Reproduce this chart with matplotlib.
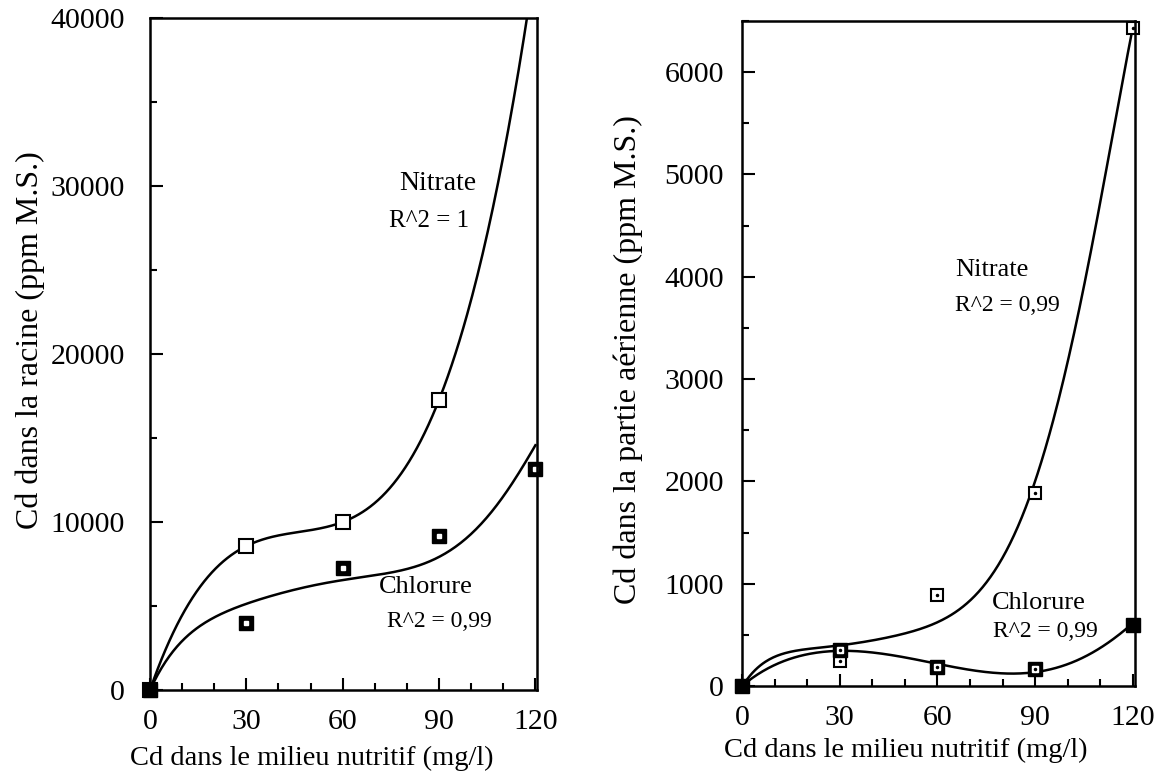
import numpy as np
import matplotlib
matplotlib.use("Agg")
import matplotlib.pyplot as plt
from matplotlib.ticker import MultipleLocator

plt.rcParams["font.family"] = ["Liberation Serif", "DejaVu Serif"]

# concentrations in the nutrient medium (mg/l)
dose = [0, 30, 60, 90, 120]

# roots (left panel)
root_nitrate = [0, 8570, 10000, 17270]          # 120 mg/l point is off the scale
root_chlorure = [0, 3960, 7270, 9190, 13170]

# shoots (right panel)
shoot_nitrate = [0, 245, 885, 1885, 6430]
shoot_chlorure = [0, 355, 185, 165, 600]

# trend curves, every 10 mg/l
curve_x = [0, 10, 20, 30, 40, 50, 60, 70, 80, 90, 100, 110, 120]
root_chlorure_curve = [0, 2900, 4300, 5200, 5700, 6150, 6530, 6850, 7250, 7920, 9200, 11600, 14550]
shoot_nitrate_curve = [0, 255, 380, 420, 445, 480, 600, 870, 1290, 2000, 3100, 4800, 6430]
shoot_chlorure_curve = [0, 206, 310, 337, 337, 281, 206, 157, 134, 134, 206, 379, 614]

fs = 21.5
fig = plt.figure(figsize=(11.61, 7.79), dpi=100)
ax1 = fig.add_axes([150 / 1161, 1 - 690 / 779, 387 / 1161, 672 / 779])
ax2 = fig.add_axes([742 / 1161, 1 - 686 / 779, 392.6 / 1161, 665 / 779])

xs = np.linspace(0, 120, 300)


def smooth(x, y, deg):
    return np.polyval(np.polyfit(x, y, deg), xs)


def style(ax, ymax, ymajor, ypad):
    ax.set_xlim(0, 120.5)
    ax.set_ylim(0, ymax)
    ax.xaxis.set_major_locator(MultipleLocator(30))
    ax.xaxis.set_minor_locator(MultipleLocator(10))
    ax.yaxis.set_major_locator(MultipleLocator(ymajor))
    ax.yaxis.set_minor_locator(MultipleLocator(ymajor / 2))
    ax.tick_params(which="both", direction="in", width=1.5, labelsize=fs,
                   top=False, right=False)
    ax.tick_params(axis="x", pad=14)
    ax.tick_params(axis="y", pad=ypad)
    ax.tick_params(which="major", length=9)
    ax.tick_params(which="minor", length=5)
    for s in ax.spines.values():
        s.set_linewidth(1.8)


# left panel
ax1.plot(xs, smooth(dose[:4], root_nitrate, 3), color="black", lw=1.8)
ax1.plot(xs, smooth(curve_x, root_chlorure_curve, 6), color="black", lw=1.8)
ax1.plot(dose[:4], root_nitrate, "s", ms=10, mfc="white", mec="black", mew=1.5, clip_on=False)
ax1.plot(dose, root_chlorure, "s", ms=10, color="black", clip_on=False)
ax1.plot(dose[1:], root_chlorure[1:], "s", ms=3.5, color="white", clip_on=False)
style(ax1, 40000, 10000, 18)
ax1.text(77.5, 30150, "Nitrate", fontsize=20, va="center")
ax1.text(74.4, 27940, "R^2 = 1", fontsize=18, va="center")
ax1.text(71.3, 6150, "Chlorure", fontsize=19, va="center")
ax1.text(73.8, 4060, "R^2 = 0,99", fontsize=17, va="center")

# right panel
ax2.plot(xs, smooth(curve_x, shoot_nitrate_curve, 6), color="black", lw=1.8)
ax2.plot(xs, smooth(curve_x, shoot_chlorure_curve, 6), color="black", lw=1.8)
ax2.plot(dose, shoot_nitrate, "s", ms=9, mfc="white", mec="black", mew=1.5, clip_on=False)
ax2.plot(dose, shoot_nitrate, ".", ms=3, color="black", clip_on=False)
ax2.plot(dose, shoot_chlorure, "s", ms=10, color="black", clip_on=False)
ax2.plot(dose[1:4], shoot_chlorure[1:4], "s", ms=5, color="white", clip_on=False)
ax2.plot(dose[1:4], shoot_chlorure[1:4], ".", ms=3, color="black", clip_on=False)
style(ax2, 6500, 1000, 13)
ax2.text(65.4, 4066, "Nitrate", fontsize=19, va="center")
ax2.text(65.4, 3724, "R^2 = 0,99", fontsize=17, va="center")
ax2.text(76.7, 811, "Chlorure", fontsize=19, va="center")
ax2.text(77.0, 528, "R^2 = 0,99", fontsize=17, va="center")

fig.text(312 / 1161, 1 - 758 / 779, "Cd dans le milieu nutritif (mg/l)", fontsize=20.5,
         ha="center", va="center")
fig.text(906 / 1161, 1 - 750 / 779, "Cd dans le milieu nutritif (mg/l)", fontsize=20.5,
         ha="center", va="center")
fig.text(30 / 1161, 1 - 340 / 779, "Cd dans la racine (ppm M.S.)", fontsize=23,
         rotation=90, ha="center", va="center")
fig.text(628 / 1161, 1 - 360 / 779, "Cd dans la partie aérienne (ppm M.S.)", fontsize=23,
         rotation=90, ha="center", va="center")

fig.savefig("out.png", dpi=100)
